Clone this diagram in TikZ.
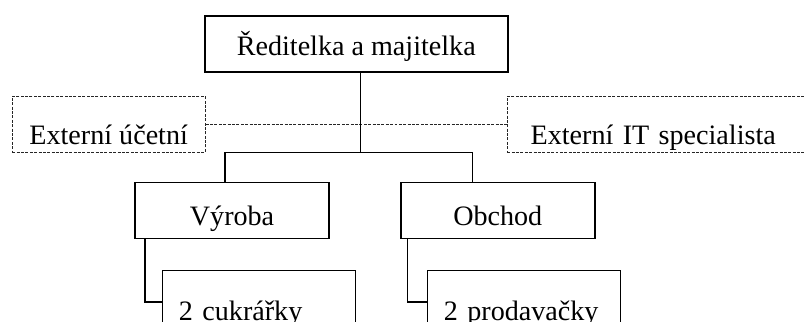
\documentclass[tikz,border=0pt]{standalone}
\usepackage{fontspec}
\setmainfont{Liberation Serif}
\usepackage{tikz}
\usetikzlibrary{positioning}
\tikzstyle{unit} = [rectangle, draw, line width=0.9pt, anchor=north west,
  inner ysep=0pt, font=\fontsize{16}{19}\selectfont]
\tikzstyle{extunit} = [unit, draw=black!85, line width=0.55pt,
  dash pattern=on 1.7pt off 0.8pt, text height=0.97cm, text depth=0.15cm]
\tikzstyle{dept} = [unit, minimum width=3.88cm, text height=0.87cm, text depth=0.25cm]
\tikzstyle{staff} = [unit, text width=3.2cm, inner xsep=0.33cm, align=left,
  text height=1.0cm, text depth=0.28cm]
\tikzstyle{line} = [line width=0.9pt]
\tikzstyle{dashline} = [draw=black!85, line width=0.55pt, dash pattern=on 1.7pt off 0.8pt]

\begin{document}
\begin{tikzpicture}[x=0.02cm, y=-0.02cm]
    \useasboundingbox (0,0) rectangle (804,321);
    \node[unit, minimum width=6.06cm, text height=0.8cm, text depth=0.33cm] (dir) at (204,15) {Ředitelka a majitelka};
    \node[extunit, minimum width=3.86cm] (ext1) at (11.7,95.7) {Externí účetní};
    \node[extunit, text width=5.16cm, inner xsep=0.47cm, align=left] (ext2) at (506.7,95.7) {Externí IT specialista};
    \node[dept] (vyroba) at (134.3,181.7) {Výroba};
    \node[dept] (obchod) at (400,181.7) {Obchod};
    \node[staff] (cukr) at (161.7,269.5) {2 cukrářky};
    \node[staff] (prod) at (426.7,269.5) {2 prodavačky};
    \coordinate (split) at (360.3,152.3);
    \coordinate (bl) at (225,152.3);
    \coordinate (br) at (472.3,152.3);
    \draw[dashline] (ext1) -- (ext2);
    \draw[line] (split |- dir.south) -- (split);
    \draw[line] (bl |- vyroba.north) -- (bl) -- (br) -- (br |- obchod.north);
    \draw[line] ([xshift=0.21cm]vyroba.south west) |- (cukr);
    \draw[line] ([xshift=0.15cm]obchod.south west) |- (prod);
  \end{tikzpicture}
\end{document}
